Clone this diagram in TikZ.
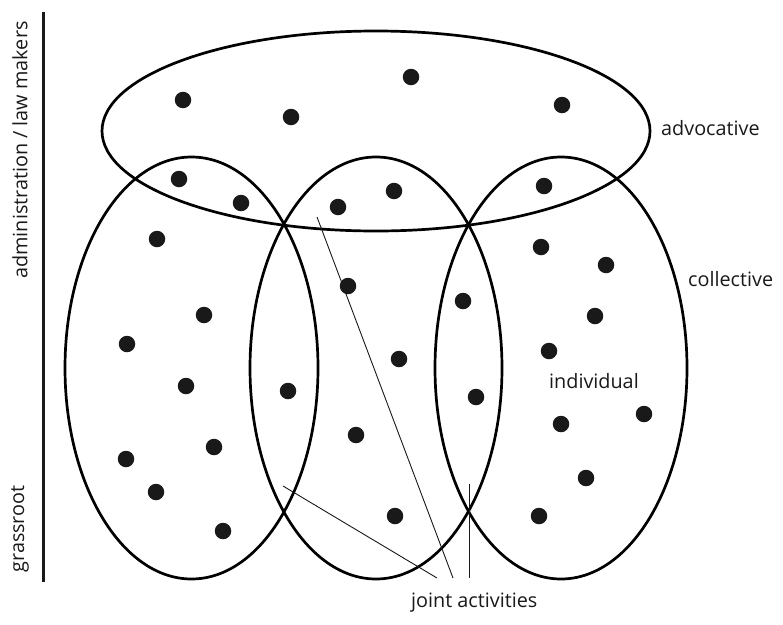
\documentclass[tikz,border=0pt]{standalone}
\usepackage{fontspec}
\setmainfont{Open Sans}
\usetikzlibrary{shapes.geometric}
\begin{document}
\begin{tikzpicture}[x=1pt,y=-1pt,
  setring/.style={draw=black,line width=2.7pt,ellipse,inner sep=0pt,fill=none},
  dot/.style={circle,fill=black!90,inner sep=0pt,minimum size=16.5pt},
  lbl/.style={text=black!90,font=\fontsize{19.8}{24}\selectfont,inner sep=0pt},
  pointer/.style={line width=0.9pt,black!90}]
\useasboundingbox (0,0) rectangle (783,624);
% axis
\coordinate (axtop) at (43,12);
\coordinate (axbot) at (43,582);
\draw[line width=3pt,black!90] (axtop) -- (axbot);
\node[lbl,rotate=90] (admin) at (20,150) {administration / law makers};
\node[lbl,rotate=90] (grass) at (20,529) {grassroot};
% sets
\node[setring,minimum width=548pt,minimum height=200pt] (adv) at (376,131) {};
\node[setring,minimum width=253pt,minimum height=422pt] (leftset) at (191.5,368) {};
\node[setring,minimum width=252pt,minimum height=422pt] (midset) at (376,368) {};
\node[setring,minimum width=252pt,minimum height=422pt] (rightset) at (561,368) {};
% labels
\node[lbl,anchor=west] (advlbl) at (661,128) {advocative};
\node[lbl,anchor=west] (collbl) at (688,279) {collective};
\node[lbl,anchor=west] (indlbl) at (549,381) {individual};
\node[lbl,anchor=west] (jointlbl) at (411,603) {joint activities};
% dots
\foreach \i/\p in {1/{183,100},2/{291,117},3/{411,77},4/{562,105},
  5/{179,179},6/{241,203},7/{157,239},8/{204,315},9/{127,344},10/{186,386},
  11/{214,447},12/{126,459},13/{156,492},14/{223,531},
  15/{338,207},16/{394,191},17/{348,286},18/{288,391},19/{399,359},20/{356,435},21/{395,516},
  22/{463,301},23/{476,397},
  24/{544,186},25/{541,247},26/{606,265},27/{595,316},28/{549,351},29/{561,424},30/{644,414},31/{586,478},32/{539,516}}
  \node[dot] (d\i) at (\p) {};
% pointers
\coordinate (pa) at (317,217);
\coordinate (pae) at (453,578);
\coordinate (pb) at (283,486);
\coordinate (pbe) at (437,578);
\coordinate (pc) at (469,484);
\coordinate (pce) at (469,578);
\draw[pointer] (pa) -- (pae);
\draw[pointer] (pb) -- (pbe);
\draw[pointer] (pc) -- (pce);
\end{tikzpicture}
\end{document}
